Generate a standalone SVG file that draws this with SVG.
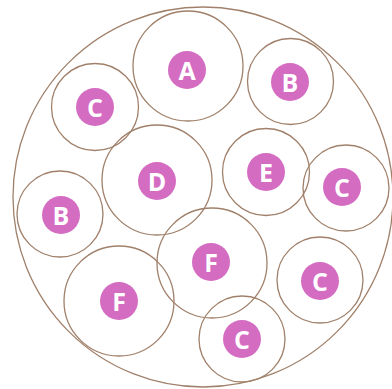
<svg xmlns="http://www.w3.org/2000/svg" width="392" height="389" viewBox="0 0 392 389">
<style>
.ring{fill:none;stroke:#a0806a;stroke-width:1.3}
.disc{fill:#d46cc2}
.lbl{fill:#ffffff;font-family:"Open Sans","DejaVu Sans",sans-serif;font-weight:bold;font-size:25px;text-anchor:middle;dominant-baseline:central}
</style>
<rect width="392" height="389" fill="#ffffff"/>
<g id="outer"><circle class="ring" cx="203" cy="197" r="190"/></g>
<g id="nodeA"><circle class="ring" cx="188" cy="66" r="55"/><circle class="disc" cx="187" cy="70" r="19"/><text class="lbl" x="187" y="70">A</text></g>
<g id="nodeB1"><circle class="ring" cx="290.5" cy="81.5" r="43"/><circle class="disc" cx="290" cy="82" r="19"/><text class="lbl" x="290" y="82">B</text></g>
<g id="nodeC1"><circle class="ring" cx="95" cy="107" r="43.5"/><circle class="disc" cx="95" cy="107" r="19"/><text class="lbl" x="95" y="107">C</text></g>
<g id="nodeD"><circle class="ring" cx="157" cy="180" r="55"/><circle class="disc" cx="157" cy="181" r="19"/><text class="lbl" x="157" y="181">D</text></g>
<g id="nodeE"><circle class="ring" cx="266" cy="172" r="43.5"/><circle class="disc" cx="266" cy="172" r="19"/><text class="lbl" x="266" y="172">E</text></g>
<g id="nodeC2"><circle class="ring" cx="346" cy="188" r="43"/><circle class="disc" cx="342" cy="187" r="19"/><text class="lbl" x="342" y="187">C</text></g>
<g id="nodeB2"><circle class="ring" cx="60" cy="214" r="43"/><circle class="disc" cx="61" cy="215" r="19"/><text class="lbl" x="61" y="215">B</text></g>
<g id="nodeF1"><circle class="ring" cx="119" cy="301" r="55"/><circle class="disc" cx="119" cy="301" r="19"/><text class="lbl" x="119" y="301">F</text></g>
<g id="nodeF2"><circle class="ring" cx="212" cy="263" r="55"/><circle class="disc" cx="211" cy="262" r="19"/><text class="lbl" x="211" y="262">F</text></g>
<g id="nodeC3"><circle class="ring" cx="320" cy="280" r="43"/><circle class="disc" cx="320" cy="281" r="19"/><text class="lbl" x="320" y="281">C</text></g>
<g id="nodeC4"><circle class="ring" cx="242" cy="339" r="43"/><circle class="disc" cx="242" cy="339" r="19"/><text class="lbl" x="242" y="339">C</text></g>
<g id="connectors"/>
</svg>
